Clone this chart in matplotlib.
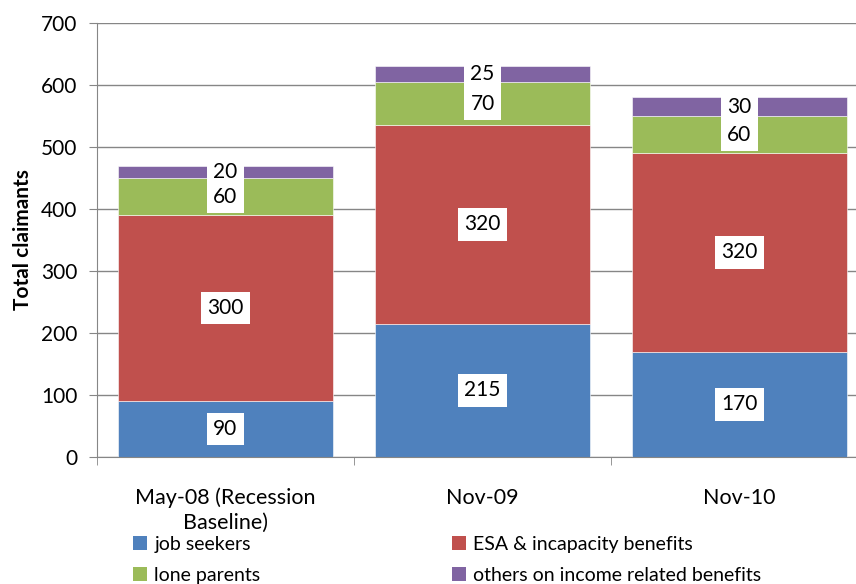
import numpy as np
import matplotlib.pyplot as plt
from matplotlib.patches import Patch

plt.rcParams['font.family'] = ['Lato', 'DejaVu Sans']

# data
categories = ['May-08 (Recession\nBaseline)', 'Nov-09', 'Nov-10']
job_seekers = [90, 215, 170]
esa_incapacity = [300, 320, 320]
lone_parents = [60, 70, 60]
others = [20, 25, 30]

series = [
    ('job seekers', job_seekers, '#4F81BD'),
    ('ESA & incapacity benefits', esa_incapacity, '#C0504D'),
    ('lone parents', lone_parents, '#9BBB59'),
    ('others on income related benefits', others, '#8064A2'),
]

fig = plt.figure(figsize=(8.56, 5.84), dpi=100)
ax = fig.add_axes([97 / 856, 1 - 457 / 584, 771 / 856, 434 / 584])

x = np.arange(len(categories))
bottom = np.zeros(len(categories))
for name, vals, col in series:
    vals = np.array(vals, dtype=float)
    ax.bar(x, vals, width=0.833, bottom=bottom, color=col, zorder=2,
           edgecolor='white', linewidth=0.4)
    for xi, b, v in zip(x, bottom, vals):
        ax.text(xi, b + v / 2, f'{int(v)}', ha='center', va='center', fontsize=15,
                zorder=4, bbox=dict(facecolor='white', edgecolor='none',
                                    boxstyle='square,pad=0.3'))
    bottom += vals

ax.set_xlim(-0.5, 2.5)
ax.set_ylim(0, 700)
ax.set_yticks(range(0, 701, 100))
ax.tick_params(axis='y', labelsize=15, length=6, color='#868686', direction='out', pad=8)
ax.yaxis.grid(True, color='#868686', linewidth=1, zorder=0)
ax.set_axisbelow(True)

ax.set_xticks(x)
ax.set_xticklabels(categories, fontsize=15.5, linespacing=1.3)
ax.tick_params(axis='x', length=0, pad=22)
ax.set_xticks([-0.5, 0.5, 1.5, 2.5], minor=True)
ax.tick_params(axis='x', which='minor', length=6, color='#868686', direction='out')

for s in ['top', 'right']:
    ax.spines[s].set_visible(False)
for s in ['left', 'bottom']:
    ax.spines[s].set_color('#868686')

ax.set_ylabel('Total claimants', fontsize=15, fontweight='bold', labelpad=6)

def make_handles(idx):
    return [Patch(facecolor=series[i][2], edgecolor='none') for i in idx], [series[i][0] for i in idx]

h1, l1 = make_handles([0, 2])
h2, l2 = make_handles([1, 3])
for h, l, xpos in [(h1, l1, 133 / 856), (h2, l2, 452 / 856)]:
    leg = fig.legend(h, l, loc='upper left', bbox_to_anchor=(xpos, 1 - 536 / 584),
                     frameon=False, fontsize=14, handlelength=0.7, handleheight=0.7,
                     handletextpad=0.4, labelspacing=0.7, borderpad=0, borderaxespad=0)

fig.savefig('out.png', dpi=100)
